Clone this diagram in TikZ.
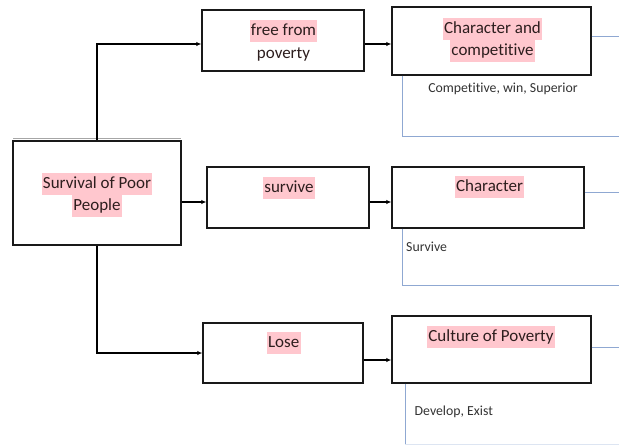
\documentclass[tikz,border=0pt]{standalone}
\usepackage{fontspec}
\setmainfont{Carlito}[Ligatures=NoCommon]
\usetikzlibrary{arrows.meta,shadows}
\definecolor{hlpink}{RGB}{255,199,206}
\definecolor{txtdark}{RGB}{45,30,30}
\definecolor{smalltxt}{RGB}{50,50,50}
\definecolor{bluel}{RGB}{143,168,210}
\begin{document}
\begin{tikzpicture}[x=1pt,y=-1pt,
  box/.style={draw=black!90, line width=1.4pt, fill=white, inner sep=0pt,
    drop shadow={shadow xshift=1.2pt, shadow yshift=-1.2pt, fill=black!45, opacity=1}},
  hl/.style={fill=hlpink, text=txtdark, inner xsep=1.2pt, inner ysep=2.5pt,
    text height=13pt, text depth=4pt, font=\fontsize{17}{22}\selectfont},
  plain/.style={text=txtdark, inner xsep=1.2pt, inner ysep=2.5pt,
    text height=13pt, text depth=4pt, font=\fontsize{17}{22}\selectfont},
  small/.style={text=smalltxt, inner sep=0pt, font=\fontsize{13.8}{16}\selectfont},
  conn/.style={draw=black, line width=1.2pt, -{Latex[length=5pt,width=4.5pt]}},
  bl/.style={draw=bluel, line width=0.9pt}]
\useasboundingbox (0,0) rectangle (619,445);
% boxes
\draw[black!35, line width=1pt] (13,138) -- (181,138);
\node[box, minimum width=168pt, minimum height=104pt] (main) at (97,193) {};
\node[box, minimum width=162pt, minimum height=61pt] (free) at (283,40.5) {};
\node[box, minimum width=199pt, minimum height=68pt] (cc) at (491.5,41) {};
\node[box, minimum width=162pt, minimum height=61pt] (surv) at (288,197.5) {};
\node[box, minimum width=192pt, minimum height=61pt] (chr) at (488,197.5) {};
\node[box, minimum width=160pt, minimum height=60pt] (lose) at (283,353) {};
\node[box, minimum width=199pt, minimum height=67pt] (cult) at (491.5,349.5) {};
% texts
\node[hl] (t1a) at (97,184) {Survival of Poor};
\node[hl] (t1b) at (97,206) {People};
\node[hl] (t2a) at (283.5,31) {free from};
\node[plain] (t2b) at (283.5,54) {poverty};
\node[hl] (t3a) at (492.5,29) {Character and};
\node[hl] (t3b) at (492.5,51) {competitive};
\node[hl] (t4) at (289,187.5) {survive};
\node[hl] (t5) at (489.5,187) {Character};
\node[hl] (t6) at (283.7,343) {Lose};
\node[hl] (t7) at (491,337) {Culture of Poverty};
\node[small] (s1) at (503,89) {Competitive, win, Superior};
\node[small, anchor=west] (s2) at (406,247) {Survive};
\node[small, anchor=west] (s3) at (414.5,412) {Develop, Exist};
% connectors
\coordinate (a1) at ([yshift=-3.5pt]free.west);
\draw[conn] (main.north) -- (main.north |- a1) -- (a1);
\coordinate (a2) at ([yshift=-4.5pt]surv.west);
\draw[conn] (main.east |- a2) -- (a2);
\draw[conn] (main.south) -- (main.south |- lose.west) -- (lose.west);
\coordinate (a3) at ([yshift=-3pt]cc.west);
\draw[conn] (free.east |- a3) -- (a3);
\coordinate (a4) at ([yshift=-4.5pt]chr.west);
\draw[conn] (surv.east |- a4) -- (a4);
\coordinate (a5) at ([yshift=-10.5pt]cult.west);
\draw[conn] (lose.east |- a5) -- (a5);
% blue brackets
\coordinate (e1) at (619,36);
\coordinate (e2) at (619,136);
\coordinate (e3) at (619,192);
\coordinate (e4) at (619,285);
\coordinate (e5) at (619,347);
\coordinate (e6) at (619,444);
\draw[bl] (cc.east |- e1) -- (e1);
\draw[bl] ([xshift=11pt]cc.south west) |- (e2);
\draw[bl] (chr.east |- e3) -- (e3);
\draw[bl] ([xshift=11pt]chr.south west) |- (e4);
\draw[bl] (cult.east |- e5) -- (e5);
\draw[bl] ([xshift=14pt]cult.south west) -- ([xshift=14pt]cult.south west |- e6);
\draw[draw=bluel!30, line width=0.6pt] ([xshift=14pt]cult.south west |- e6) -- (e6);
\end{tikzpicture}
\end{document}
